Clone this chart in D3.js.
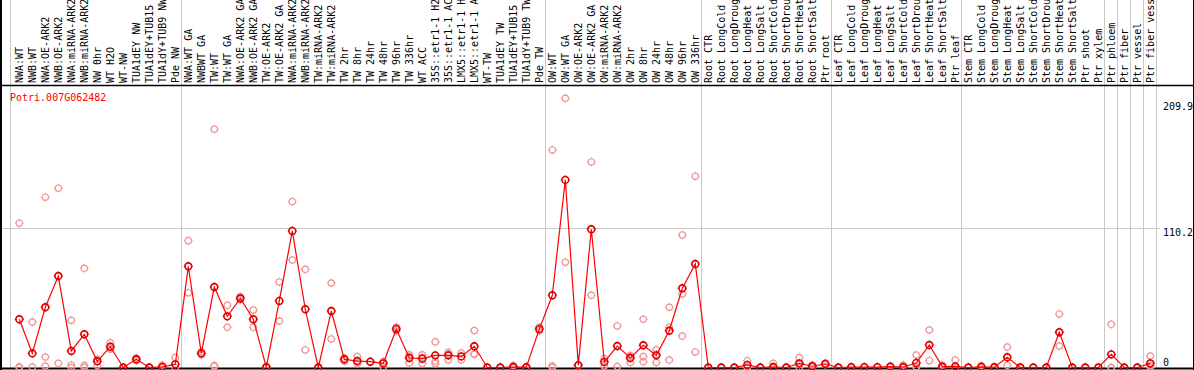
<!DOCTYPE html>
<html>
<head>
<meta charset="utf-8">
<title>Potri.007G062482</title>
<script src="https://d3js.org/d3.v7.min.js"></script>
<style>
  body { margin: 0; background: #fff; }
  text { font-family: "DejaVu Sans Mono", monospace; font-size: 10px; }
</style>
</head>
<body>
<svg width="1194" height="370"></svg>
<script>
var geneName = "Potri.007G062482";

var categories = ["NWA:WT","NWB:WT","NWA:OE-ARK2","NWB:OE-ARK2","NWA:miRNA-ARK2","NWB:miRNA-ARK2",
  "NW 0hr","WT H2O","WT-NW","TUA1dEY NW","TUA1dEY+TUB15 NW","TUA1dY+TUB9 NW","Pde NW",
  "NWA:WT GA","NWBWT GA","TW:WT","TW:WT GA","NWA:OE-ARK2 GA","NWB:OE-ARK2 GA","TW:OE-ARK2",
  "TW:OE-ARK2 GA","NWA:miRNA-ARK2 GA","NWB:miRNA-ARK2 GA","TW:miRNA-ARK2","TW:miRNA-ARK2 GA",
  "TW 2hr","TW 8hr","TW 24hr","TW 48hr","TW 96hr","TW 336hr","WT ACC","35S::etr1-1 H2O",
  "35S::etr1-1 ACC","LMX5::etr1-1 H2O","LMX5::etr1-1 ACC","WT-TW","TUA1dEY TW","TUA1dEY+TUB15 TW",
  "TUA1dY+TUB9 TW","Pde TW",
  "OW:WT","OW:WT GA","OW:OE-ARK2","OW:OE-ARK2 GA","OW:miRNA-ARK2","OW:miRNA-ARK2 GA",
  "OW 2hr","OW 8hr","OW 24hr","OW 48hr","OW 96hr","OW 336hr",
  "Root CTR","Root LongCold","Root LongDrought","Root LongHeat","Root LongSalt","Root ShortCold",
  "Root ShortDrought","Root ShortHeat","Root ShortSalt","Ptr root",
  "Leaf CTR","Leaf LongCold","Leaf LongDrought","Leaf LongHeat","Leaf LongSalt","Leaf ShortCold",
  "Leaf ShortDrought","Leaf ShortHeat","Leaf ShortSalt","Ptr leaf",
  "Stem CTR","Stem LongCold","Stem LongDrought","Stem LongHeat","Stem LongSalt","Stem ShortCold",
  "Stem ShortDrought","Stem ShortHeat","Stem ShortSalt","Ptr shoot","Ptr xylem",
  "Ptr phloem","Ptr fiber","Ptr vessel","Ptr fiber vessel"];

// last sample of each group (a separator line follows it)
var groupEnds = ["Pde NW","Pde TW","OW 336hr","Ptr root","Ptr leaf","Ptr xylem",
  "Ptr phloem","Ptr fiber","Ptr vessel","Ptr fiber vessel"];

var meanValues = [38.2,11.2,47.7,72.4,13.1,26.3,4.9,16.5,0,6.5,0,0.5,2.5,
  80.1,11.2,63.7,40.5,54.8,38.2,0.3,52.7,108.1,46.1,0,44.7,6.5,5.1,4.6,3.3,30.5,7.5,7.0,
  9.6,9.6,8.8,16.8,0,0,0.4,0.3,30.4,
  57.2,148.5,1.9,109.4,4.4,17.0,7.5,17.6,9.6,29.1,62.7,81.9,
  0,0,0,2.0,0,0.4,0,3.3,1.0,2.8,
  0,0.3,0.3,0.3,0.7,0.4,3.6,17.8,0.7,0.9,
  0,0.5,0.2,8.1,0,0,0,27.9,0,0,0,
  10.4,0,0,3.3];

var replicateValues = [[114.2,0.6,0],[36.0,0.4],[134.8,8.3,1.2],[141.9,3.3],[37.4,2.0,0],
  [78.5,1.5,0],[6.5,1.5],[19.6,15.5,14.5],[0],[7.5,5.5],[0],[2.0,0],[7.8,0],
  [100.4,59.2],[12.5,10],[188.6,1.5,1.0],[49.2,31.8],[56,53.5],[45.5,31.8],[0.5,0],
  [67.7,36.8],[131.3,85.1],[77.7,13.9],[0],[66.9,22.6],[7.5,5],[8.7,3.2],[4.6],
  [4.8,0.5,4.5],[32,29],[8.7,3.6,10],[10,3.2,7.8],[20.3,5,3],[10.5,6,12],[11.5,6],
  [29.3,10.6,10.5],[0],[0],[1.5,0],[0.5,0],[32,29],
  [172.2,1.2,0],[213.1,83.3],[2,1.6],[162.7,57.2],[7.0,1.2],[32.9,0.8],[9.5,4,9],
  [38.2,8.6,4.5],[14,4,10.5],[47.7,31.8,5.9],[104.9,58.2,24.9],[151.4,12.3],
  [0],[0],[0],[5.4,0.5,0],[0],[3.3,0],[0],[7.8,2.5,0],[2,0.5],[3.5,2.2],
  [0],[0.5,0],[0.3],[0.3],[1.2,0.3],[2,0],[9.9,0.5,0.5],[29.7,5.4],[2,0],[5.9,0],
  [0],[1.5,0],[0.3],[16.2,1.7],[0.5,0],[0],[0],[42.4,17.0],[0],[0],[0],
  [34.2,0,0],[0],[0],[9.1,1.5,0]];

var tickValues = [0, 110.2, 209.9];
var gridValues = [110.2];

var svg = d3.select("svg");
var width = 1194, headerBottom = 85, plotBottom = 367.5;

var xScale = d3.scalePoint().domain(categories).range([19.3, 1150.3]);
var step = xScale.step();
var yScale = d3.scaleLinear().domain([0, 223.6]).range([plotBottom, headerBottom]);

// group separator lines (through header and plot)
svg.append("line")
  .attr("x1", 10.5).attr("x2", 10.5).attr("y1", 0).attr("y2", 369)
  .attr("stroke", "#c8c8c8");
svg.selectAll("line.sep")
  .data(groupEnds)
  .enter()
  .append("line")
  .attr("class", "sep")
  .attr("x1", function(d){ return Math.round(xScale(d) + step/2 - 1) + 0.5; })
  .attr("x2", function(d){ return Math.round(xScale(d) + step/2 - 1) + 0.5; })
  .attr("y1", 0).attr("y2", 369)
  .attr("stroke", "#c8c8c8");

// horizontal grid
svg.selectAll("line.grid")
  .data(gridValues)
  .enter()
  .append("line")
  .attr("class", "grid")
  .attr("x1", 2).attr("x2", 1160)
  .attr("y1", function(d){ return Math.round(yScale(d)) + 0.5; })
  .attr("y2", function(d){ return Math.round(yScale(d)) + 0.5; })
  .attr("stroke", "#c8c8c8");

// frame
svg.append("line").attr("x1", 0).attr("x2", width).attr("y1", 85.5).attr("y2", 85.5)
  .attr("stroke", "#000").attr("stroke-width", 1.5);
svg.append("line").attr("x1", 0).attr("x2", width).attr("y1", 368.5).attr("y2", 368.5)
  .attr("stroke", "#000").attr("stroke-width", 2);
svg.append("line").attr("x1", 1).attr("x2", 1).attr("y1", 0).attr("y2", 370)
  .attr("stroke", "#000").attr("stroke-width", 2);
svg.append("line").attr("x1", 1193.5).attr("x2", 1193.5).attr("y1", 0).attr("y2", 370)
  .attr("stroke", "#000").attr("stroke-width", 1);

// sample labels in header
svg.selectAll("text.cat")
  .data(categories)
  .enter()
  .append("text")
  .attr("class", "cat")
  .attr("transform", function(d){ return "translate(" + (xScale(d) + 3.8) + ",83) rotate(-90)"; })
  .attr("fill", "#000")
  .text(function(d){ return d; });

// y labels
svg.selectAll("text.ylab")
  .data(tickValues)
  .enter()
  .append("text")
  .attr("class", "ylab")
  .attr("x", 1163)
  .attr("y", function(d){ return Math.min(yScale(d) + 8, plotBottom - 2); })
  .attr("fill", "#000")
  .text(function(d){ return d; });

// gene name
svg.append("text")
  .attr("x", 10).attr("y", 101)
  .attr("fill", "#ff0000")
  .text(geneName);

function marker(g, r, color, sw) {
  g.append("circle").attr("r", r).attr("fill", "none").attr("stroke", color).attr("stroke-width", sw);
  g.append("path")
    .attr("d", "M0," + (-r - 1.2) + "V" + (-r + 0.6) + "M0," + (r - 0.6) + "V" + (r + 1.2) +
               "M" + (-r - 1.2) + ",0H" + (-r + 0.6) + "M" + (r - 0.6) + ",0H" + (r + 1.2))
    .attr("stroke", color).attr("stroke-width", 1);
}

// replicate points
var reps = [];
replicateValues.forEach(function(arr, i){
  arr.forEach(function(v){ reps.push({cat: categories[i], v: v}); });
});
svg.selectAll("g.rep")
  .data(reps)
  .enter()
  .append("g")
  .attr("class", "rep")
  .attr("transform", function(d){ return "translate(" + xScale(d.cat) + "," + yScale(d.v) + ")"; })
  .each(function(){ marker(d3.select(this), 3.2, "#ee9a9a", 1.2); });

// mean line
var means = categories.map(function(c, i){ return {cat: c, v: meanValues[i]}; });
var line = d3.line()
  .x(function(d){ return xScale(d.cat); })
  .y(function(d){ return yScale(d.v); });
svg.append("path")
  .datum(means)
  .attr("d", line)
  .attr("fill", "none")
  .attr("stroke", "#ff0000")
  .attr("stroke-width", 1.2);

svg.selectAll("g.mean")
  .data(means)
  .enter()
  .append("g")
  .attr("class", "mean")
  .attr("transform", function(d){ return "translate(" + xScale(d.cat) + "," + yScale(d.v) + ")"; })
  .each(function(){ marker(d3.select(this), 3.4, "#e00000", 1.6); });
</script>
</body>
</html>
